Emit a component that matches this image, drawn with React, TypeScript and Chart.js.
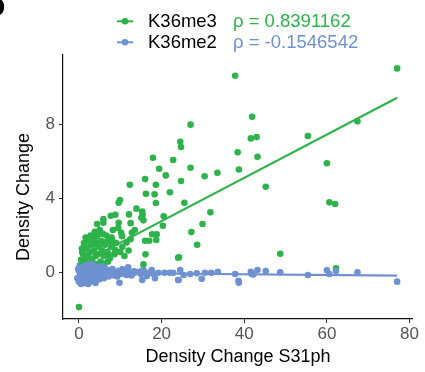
import React, { useEffect, useRef } from "react";
import { Chart, registerables } from "chart.js";

Chart.register(...registerables);

const GREEN = "#2DB34A";
const BLUE = "#6E91D1";

const seriesNames = ["K36me3", "K36me2"];
const rhoLabels = ["\u03C1 = 0.8391162", "\u03C1 = -0.1546542"];
const xTicks = [0, 20, 40, 60, 80];
const yTicks = [0, 4, 8];
const xTitle = "Density Change S31ph";
const yTitle = "Density Change";

const k36me3Points: [number, number][] = [
  [37.8, 10.6], [41.9, 8.4], [41.6, 7.23], [43.0, 7.3], [43.2, 6.24], [38.4, 6.48], [38.7, 5.56],
  [27.0, 7.97], [24.5, 7.05], [24.7, 6.77], [17.9, 6.19], [22.8, 6.07], [19.4, 5.6], [27.0, 5.65],
  [21.0, 5.24], [30.4, 5.19], [33.5, 5.38], [16.0, 5.04], [12.3, 4.74], [18.6, 4.74], [24.7, 4.94],
  [16.2, 4.25], [18.3, 4.22], [22.0, 4.33], [9.9, 3.91], [77.0, 11.0], [55.4, 7.36], [67.4, 8.15],
  [60.0, 5.89], [45.2, 4.63], [60.6, 3.79], [62.0, 3.7], [48.7, 1.02], [62.2, 0.24], [18.6, 3.75],
  [9.6, 3.77], [25.5, 3.77], [31.8, 3.25], [13.9, 3.45], [15.3, 3.3], [15.4, 3.12], [15.1, 2.96],
  [12.1, 3.14], [8.8, 3.12], [7.7, 3.07], [5.9, 2.89], [4.4, 2.62], [5.9, 2.69], [9.6, 2.69],
  [12.5, 2.67], [15.6, 2.82], [20.5, 3.04], [20.3, 2.53], [29.9, 2.62], [27.2, 2.19], [28.6, 1.51],
  [24.0, 0.81], [15.6, 0.45], [16.1, 0.99], [17.7, 2.07], [18.8, 2.07], [18.7, 1.76], [16.0, 1.72],
  [17.0, 1.72], [12.8, 2.15], [10.2, 2.15], [10.4, 1.97], [12.5, 1.81], [11.5, 1.63], [7.9, 1.9],
  [8.1, 1.72], [5.6, 2.08], [4.3, 1.97], [3.9, 1.67], [6.5, 1.65], [8.8, 1.22], [10.0, 1.11],
  [1.8, 1.35], [1.0, 1.0], [7.3, 0.95], [0, -1.85], [24.2, 0.83],
  [0.3, 0.4], [0.5, 0.7], [0.8, 1.1], [1.0, 0.5], [1.2, 1.6], [1.4, 0.9], [1.6, 1.9], [1.8, 0.6],
  [2.0, 1.3], [2.2, 1.7], [2.4, 0.8], [2.6, 1.1], [2.8, 2.0], [3.0, 1.5], [3.2, 0.7], [3.4, 1.8],
  [3.6, 1.2], [3.8, 2.2], [4.0, 0.9], [4.2, 1.5], [4.4, 2.0], [4.6, 1.0], [4.8, 1.4], [5.0, 2.3],
  [5.2, 0.6], [5.4, 1.7], [5.6, 1.2], [5.8, 2.1], [6.0, 0.9], [6.3, 1.5], [6.6, 2.0], [6.9, 1.1],
  [7.2, 1.7], [7.5, 0.8], [7.8, 1.4], [8.2, 2.3], [8.6, 1.0], [9.0, 1.6], [9.5, 2.4], [10.5, 1.4],
  [11.0, 0.9], [12.0, 1.2], [13.5, 2.3], [2.5, 0.4], [3.5, 0.5], [1.5, 0.3], [0.7, 1.3], [6.0, 0.5],
  [4.5, 0.45], [7.0, 0.6],
];

const k36me2Points: [number, number][] = [
  [14.0, 0.04], [15.0, -0.07], [15.6, 0.15], [16.0, 0], [15.3, -0.39], [16.8, 0], [18.0, -0.07],
  [18.4, -0.3], [19.2, 0], [20.7, 0], [22.0, 0], [22.8, 0], [24.5, 0.15], [24.1, -0.39], [25.3, -0.12],
  [26.9, -0.07], [28.5, -0.03], [29.7, -0.32], [30.5, 0], [32.0, 0], [33.6, 0.05], [37.8, -0.07],
  [38.6, -0.43], [38.7, -0.54], [41.6, 0.05], [41.8, -0.07], [42.2, -0.09], [43.2, 0.15], [45.2, 0.09],
  [48.7, 0.02], [55.4, -0.12], [60.0, 0.13], [60.6, -0.07], [62.2, 0.09], [67.4, 0.02], [77.0, -0.48],
  [9.8, -0.54], [24.0, -0.39], [11.9, 0.29], [10.5, 0.18], [11.5, -0.12], [13.4, 0], [15.2, 0.11],
  [16.4, -0.18], [17.6, 0.15],
  [-0.4, -0.3], [-0.2, 0.2], [0, -0.5], [0.2, 0.4], [0.3, -0.1], [0.5, -0.6], [0.6, 0.1], [0.8, 0.35],
  [1.0, -0.35], [1.1, 0.05], [1.3, -0.55], [1.5, 0.25], [1.6, -0.15], [1.8, 0.45], [2.0, -0.4],
  [2.1, 0.1], [2.3, -0.2], [2.5, 0.3], [2.7, -0.5], [2.9, 0.0], [3.1, 0.2], [3.3, -0.3], [3.5, 0.4],
  [3.7, -0.1], [3.9, -0.45], [4.1, 0.15], [4.3, -0.25], [4.5, 0.3], [4.8, -0.05], [5.0, -0.35],
  [5.2, 0.2], [5.5, -0.15], [5.8, 0.1], [6.0, -0.3], [6.3, 0.25], [6.6, -0.05], [6.9, 0.15],
  [7.2, -0.2], [7.5, 0.05], [7.8, -0.1], [8.1, 0.2], [8.5, -0.15], [8.9, 0.05], [9.3, -0.2],
  [9.7, 0.1], [10.2, -0.05], [10.8, 0.12], [11.4, -0.1], [12.0, 0.05], [12.7, -0.15], [13.3, 0.08],
  [0.4, -0.3], [1.2, 0.3], [2.2, -0.6], [3.0, 0.45], [4.0, -0.55], [5.6, 0.35], [0.1, 0.05],
  [1.9, -0.05], [3.4, 0.1],
];

const k36me3Fit: [number, number][] = [[0, 0.45], [77, 9.42]];
const k36me2Fit: [number, number][] = [[-0.5, 0.0], [77, -0.16]];

const toXY = (a: [number, number][]) => a.map(([x, y]) => ({ x, y }));

const overlayPlugin = {
  id: "overlay",
  afterDraw(chart: any) {
    const ctx = chart.ctx as CanvasRenderingContext2D;
    const area = chart.chartArea;
    ctx.save();
    // panel label (mostly cropped off the left edge)
    ctx.fillStyle = "#000";
    ctx.font = "bold 30px 'Liberation Sans', Arial, sans-serif";
    ctx.textBaseline = "alphabetic";
    ctx.textAlign = "left";
    ctx.fillText("b", -13, 15);

    // legend
    const colors = [GREEN, BLUE];
    const rowY = [21.3, 42.3];
    for (let i = 0; i < 2; i++) {
      const y = rowY[i];
      ctx.strokeStyle = colors[i];
      ctx.lineWidth = 2;
      ctx.beginPath();
      ctx.moveTo(117, y);
      ctx.lineTo(133, y);
      ctx.stroke();
      ctx.fillStyle = colors[i];
      ctx.beginPath();
      ctx.arc(125, y, 3.3, 0, Math.PI * 2);
      ctx.fill();
      ctx.font = "18.5px 'Liberation Sans', Arial, sans-serif";
      ctx.textBaseline = "middle";
      ctx.fillStyle = "#000";
      ctx.fillText(seriesNames[i], 148, y + 1);
      ctx.fillStyle = colors[i];
      ctx.fillText(rhoLabels[i], 233, y + 1);
    }

    // axis titles
    ctx.fillStyle = "#000";
    ctx.font = "18px 'Liberation Sans', Arial, sans-serif";
    ctx.textAlign = "center";
    ctx.textBaseline = "middle";
    ctx.fillText(xTitle, (area.left + area.right) / 2 + 0.5, 357);
    ctx.translate(24, 197);
    ctx.rotate(-Math.PI / 2);
    ctx.fillText(yTitle, 0, 0);
    ctx.restore();
  },
};

export default function App() {
  const ref = useRef<HTMLCanvasElement>(null);
  useEffect(() => {
    if (!ref.current) return;
    const chart = new Chart(ref.current, {
      type: "scatter",
      data: {
        datasets: [
          {
            label: "K36me2 fit",
            data: toXY(k36me2Fit),
            showLine: true,
            borderColor: BLUE,
            borderWidth: 2.2,
            pointRadius: 0,
            order: 0,
          },
          {
            label: "K36me3 fit",
            data: toXY(k36me3Fit),
            showLine: true,
            borderColor: GREEN,
            borderWidth: 2.2,
            pointRadius: 0,
            order: 1,
          },
          {
            label: "K36me2",
            data: toXY(k36me2Points),
            backgroundColor: BLUE,
            borderWidth: 0,
            pointRadius: 3.3,
            order: 2,
          },
          {
            label: "K36me3",
            data: toXY(k36me3Points),
            backgroundColor: GREEN,
            borderWidth: 0,
            pointRadius: 3.3,
            order: 3,
          },
        ],
      },
      options: {
        responsive: false,
        animation: false,
        layout: { padding: { top: 55, right: 13, left: 0, bottom: 0 } },
        plugins: { legend: { display: false }, tooltip: { enabled: false } },
        scales: {
          x: {
            type: "linear",
            min: -3.87,
            max: 80.6,
            afterFit: (s: any) => { s.height = 53; },
            afterBuildTicks: (s: any) => { s.ticks = xTicks.map((v) => ({ value: v })); },
            grid: { display: true, drawOnChartArea: false, tickLength: 4, tickColor: "#333", tickWidth: 1 },
            border: { display: true, color: "#111", width: 1.2 },
            ticks: {
              color: "#555555",
              font: { size: 17, family: "'Liberation Sans', Arial, sans-serif" },
              padding: 1,
              maxRotation: 0,
            },
          },
          y: {
            type: "linear",
            min: -2.49,
            max: 11.72,
            afterFit: (s: any) => { s.width = 63; },
            afterBuildTicks: (s: any) => { s.ticks = yTicks.map((v) => ({ value: v })); },
            grid: { display: true, drawOnChartArea: false, tickLength: 4, tickColor: "#333", tickWidth: 1 },
            border: { display: true, color: "#111", width: 1.2 },
            ticks: {
              color: "#555555",
              font: { size: 17, family: "'Liberation Sans', Arial, sans-serif" },
              padding: 4,
            },
          },
        },
      },
      plugins: [overlayPlugin],
    });
    return () => chart.destroy();
  }, []);
  return (
    <div style={{ position: "fixed", left: 0, top: 0, width: 425, height: 372, background: "#fff" }}>
      <canvas ref={ref} width={425} height={372} />
    </div>
  );
}
